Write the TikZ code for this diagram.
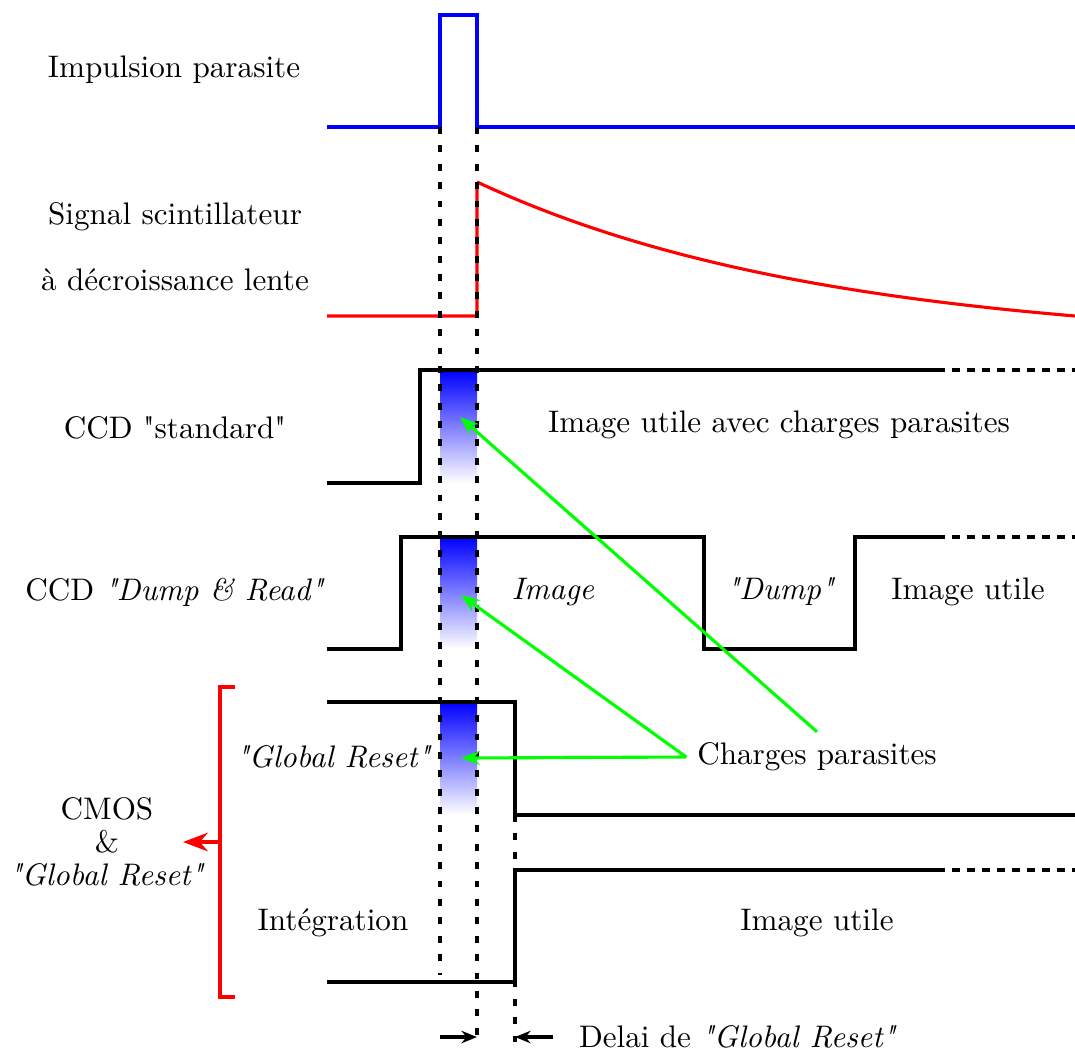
\documentclass[tikz,border=0pt]{standalone}
\usetikzlibrary{arrows.meta}

\newcommand{\guill}[1]{\textquotedbl#1\textquotedbl}

\begin{document}
\begin{tikzpicture}[x=0.321pt, y=-0.321pt,
  sig/.style={line width=1pt},
  vdash/.style={line width=1pt, dash pattern=on 2.2pt off 3.7pt},
  hdash/.style={line width=1pt, dash pattern=on 2.7pt off 2.1pt},
  charge/.style={top color=blue, bottom color=white, draw=none},
  hit/.style={line width=1pt, green, -{Stealth[length=6pt,width=4.5pt]}},
  delay/.style={line width=1pt, -{Stealth[length=5pt,width=4pt]}}]
  \useasboundingbox (0,0) rectangle (1075,1055);

  % charges parasites (degrades)
  \shade[charge] (440,370) rectangle (477,483);
  \shade[charge] (440,537) rectangle (477,649);
  \shade[charge] (440,702) rectangle (477,815);
  \coordinate (hitA) at (460,417);
  \coordinate (hitB) at (461,595);
  \coordinate (hitC) at (461,758);

  % impulsion parasite
  \draw[sig, blue] (327,127) -- (440,127) -- (440,15) -- (477,15) -- (477,127) -- (1075,127);
  % signal scintillateur
  \draw[sig, red] (327,316) -- (477,316) -- (477,182)
    plot[domain=0:598, samples=80] ({477+\x}, {316-163.6*exp(-\x/350)+29.6});
  % CCD standard
  \draw[sig] (327,483) -- (420,483) -- (420,370) -- (937,370);
  \draw[hdash] (937,370) -- (1075,370);
  % CCD Dump & Read
  \draw[sig] (327,649) -- (401,649) -- (401,537) -- (704,537) -- (704,649) -- (855,649) -- (855,537) -- (937,537);
  \draw[hdash] (937,537) -- (1075,537);
  % CMOS global reset
  \draw[sig] (327,702) -- (515,702) -- (515,815) -- (1075,815);
  \draw[sig] (327,982) -- (515,982) -- (515,870) -- (937,870);
  \draw[hdash] (937,870) -- (1075,870);

  % reperes verticaux
  \draw[vdash] (440,127) -- (440,975);
  \draw[vdash] (477,127) -- (477,1045);
  \draw[vdash] (515,815) -- (515,1045);

  % accolade CMOS
  \draw[sig, red] (235,687) -- (220,687) -- (220,997) -- (235,997);
  \coordinate (brk) at (220,842);
  \coordinate (brktip) at (183,842);
  \draw[sig, red, -{Stealth[length=8pt,width=6pt]}] (brk) -- (brktip);

  % textes
  \node (impuls) at (174,70) {Impulsion parasite};
  \node (scint) at (175,217) {Signal scintillateur};
  \node (lente) at (175,280) {à décroissance lente};
  \node (ccdstd) at (175,428) {CCD \guill{standard}};
  \node (ccddr) at (175,592) {CCD \textit{\guill{Dump \& Read}}};
  \node (utile1) at (779,425) {Image utile avec charges parasites};
  \node (image) at (553,592) {\textit{Image}};
  \node (dump) at (781,592) {\textit{\guill{Dump}}};
  \node (utile2) at (968,592) {Image utile};
  \node (greset) at (334,757) {\textit{\guill{Global Reset}}};
  \node (charges) at (817,757) {Charges parasites};
  \node (integ) at (333,923) {Intégration};
  \node (utile3) at (817,923) {Image utile};
  \node[align=center] (cmos) at (107,842) {CMOS\\[-1.5pt]\&\\[-1.5pt]\textit{\guill{Global Reset}}};
  \node[anchor=west] (delai) at (568,1037) {Delai de \textit{\guill{Global Reset}}};

  % fleches
  \draw[hit] (charges.north) -- (hitA);
  \draw[hit] (charges.west) -- (hitB);
  \draw[hit] (charges.west) -- (hitC);
  \coordinate (dl) at (440,1037);
  \coordinate (dlt) at (477,1037);
  \coordinate (dr) at (553,1037);
  \coordinate (drt) at (515,1037);
  \draw[delay] (dl) -- (dlt);
  \draw[delay] (dr) -- (drt);
\end{tikzpicture}
\end{document}
